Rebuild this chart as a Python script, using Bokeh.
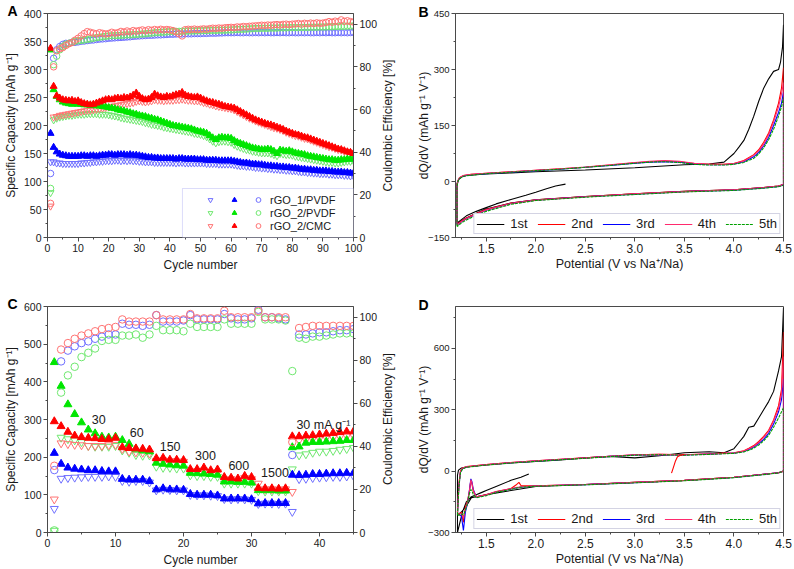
import math
from bokeh.plotting import figure
from bokeh.models import (Range1d, LinearAxis, Legend, LegendItem, Label, Title,
                          SingleIntervalTicker, BoxAnnotation, PrintfTickFormatter)
from bokeh.layouts import column, row
from bokeh.core.properties import value
from bokeh.embed import file_html
from bokeh.resources import INLINE

# ---------------- Panel A data (cycles 1..100) ----------------
a_cycles = list(range(1, 101))
a_c1 = [186,161,153,149,147,146,145,145,145,145,146,146,145,146,146,145,146,147,147,148,
        148,147,148,148,148,147,148,147,147,146,145,144,143,143,142,142,141,141,141,141,
        141,140,141,141,140,140,140,140,139,139,139,138,138,138,138,137,137,137,137,137,
        136,135,134,133,133,132,131,131,130,130,129,128,128,127,127,126,126,125,125,124,
        124,123,122,122,121,121,120,120,119,119,119,118,118,117,117,117,116,116,115,115]
a_d1 = [135,135,133,133,132,132,132,132,132,132,133,133,134,134,135,135,136,136,137,137,
        137,138,138,137,138,137,138,137,137,136,136,135,135,135,134,134,134,134,134,134,
        134,133,134,134,133,133,133,133,133,133,133,132,132,132,132,131,131,131,131,131,
        130,129,128,128,127,127,126,125,125,124,124,123,123,122,122,121,121,120,120,119,
        119,118,117,117,116,116,115,115,114,114,114,113,113,112,112,112,111,111,110,110]
a_e1 = [30,84,88,89.5,90.5,91,91,91.5,91.5,91.7,92,92.1,92.3,92.5,92.6,92.8,93,93.1,93.2,93.4,
        93.5,93.6,93.7,93.8,93.9,94,94.1,94.3,94.4,94.5,94.6,94.7,94.8,94.8,94.9,95,95,95.1,95.2,95.3,
        95.3,95.4,95.4,95.4,95.5,95.5,95.5,95.6,95.6,95.6,95.7,95.7,95.8,95.8,95.8,95.9,95.9,96,96,96,
        96,96.1,96,96,96.1,96,96,96.1,96,96.1,96,96.1,96,96,96.1,96,96.1,96,96,96.1,
        96,96,96.1,96,96.1,96,96,96.1,96,96.1,96,96.1,96,96,96.1,96,96.1,96,96.1,96.2]
a_c2 = [335,264,252,246,242,240,239,238,239,238,238,237,237,236,236,235,235,234,233,232,
        231,230,228,227,226,224,223,221,220,218,217,216,214,213,211,210,208,206,204,202,
        200,199,198,197,196,195,194,192,190,189,188,186,182,178,175,178,179,178,178,177,
        173,170,168,166,164,162,160,159,158,157,157,158,157,154,150,156,155,154,155,153,
        151,150,149,148,146,145,144,143,142,141,140,139,139,138,138,139,139,140,140,140]
a_d2 = [80,210,213,215,216,217,218,218,219,220,220,220,221,221,221,221,220,220,220,219,
        218,217,216,214,213,212,211,210,209,208,207,205,204,202,201,200,199,197,196,195,
        194,193,192,191,190,189,188,186,185,184,182,180,176,172,169,171,172,172,171,170,
        166,163,161,159,157,156,154,153,152,151,151,151,150,148,146,150,149,148,148,147,
        145,144,143,142,141,140,139,138,137,136,135,134,134,133,133,134,135,136,136,137]
a_e2 = [23,81,85,88,89.5,90.5,91,91.5,92,92.2,92.4,92.6,92.8,93.1,93.4,93.7,93.9,94.1,94.3,94.5,
        94.6,94.6,94.7,94.8,94.9,95,95,95.1,95.2,95.3,95.4,95.5,95.7,95.8,96,96.1,96.2,96.3,96.4,96.5,
        96.5,96.6,96.6,96.7,96.7,96.8,96.8,96.8,96.9,96.9,97,97,97.1,97.1,97.1,97.2,97.2,97.2,97.3,97.3,
        97.4,97.5,97.6,97.6,97.7,97.8,97.9,98,98,98.1,98.1,98.1,98.2,98.2,98.2,98.3,98.3,98.3,98.4,98.4,
        98.4,98.4,98.5,98.5,98.5,98.6,98.6,98.6,98.7,98.7,98.7,98.8,98.8,98.9,98.9,99,99,99.1,99.1,99.2]
a_c3 = [338,270,253,249,246,245,244,245,243,244,241,239,238,237,238,240,242,244,246,247,
        246,248,249,248,250,249,251,254,258,252,248,246,247,250,256,253,251,250,252,251,
        253,255,256,259,254,252,251,250,251,249,246,244,242,241,239,238,236,234,233,232,
        231,228,225,222,219,216,213,210,208,206,204,202,201,199,197,195,193,190,188,186,
        184,183,181,179,178,176,174,172,170,168,166,164,162,160,158,157,155,153,152,150]
a_d3 = [56,215,216,218,219,220,221,222,223,224,225,226,227,227,228,229,230,231,232,233,
        234,235,236,237,238,239,240,241,243,244,243,242,243,244,246,245,245,244,245,245,
        245,246,246,247,246,245,245,244,244,243,241,240,238,237,235,234,233,232,231,230,
        228,225,222,219,216,213,211,208,206,204,202,200,198,196,195,193,191,188,186,184,
        182,181,179,177,176,174,172,170,168,166,164,162,161,159,157,156,154,153,152,151]
a_e3 = [16,80,87.5,88.5,89,90,90.8,91.4,92.5,93.4,94.5,95.6,96.5,96.2,95.8,95.5,96,95.7,95.4,95.6,
        96.2,95.8,96,96.6,96.3,96.8,96.4,97,96.7,97,97.3,96.9,97.4,97.1,97.5,97.2,97.6,97.3,97.5,97.3,
        97,96.4,95.5,94.5,97.4,97.6,97.5,97.7,97.5,97.6,97.8,97.6,97.9,98.1,98,98.2,98.1,98.3,98.4,98.5,
        98.4,98.7,98.6,98.9,98.8,99,99.1,99.2,99.3,99.5,99.4,99.6,99.5,99.7,99.8,99.6,99.9,100,99.8,100,
        100.1,100.3,100,100.4,100.2,100.5,100.3,100.6,100.4,100.5,100.8,101.2,100.9,101.4,101.1,102,101.3,101.6,101.2,101]
a_labels = ["rGO_1/PVDF", "rGO_2/PVDF", "rGO_2/CMC"]

# ---------------- Panel C data (cycles 1..45) ----------------
c_cycles = list(range(1, 46))
c_c1 = [211,182,172,169,167,165,165,163,162,162,142,140,140,140,136,114,117,114,114,113,
        102,100,100,100,98,90,90,90,90,88,77,78,78,78,78,153,152,153,155,155,156,157,157,158,158]
c_d1 = [63,143,145,146,147,148,148,148,149,148,137,135,137,137,133,112,114,113,112,112,
        100,99,99,98,97,89,88,89,88,87,76,77,77,76,77,55,142,143,145,146,147,148,148,149,150]
c_e1 = [29,79.5,84.5,86.5,88,88.8,90,91,92,92,97,96.5,96.5,96,96.5,101,98,98,98,98.5,
        101,99,99,99,99,101.5,99.5,99,99,99.5,103.5,100,100,99.5,99,36,92,92,92.5,93,93,93.5,94,94,94.5]
c_c2 = [452,389,340,314,292,273,263,254,252,254,245,235,222,218,215,185,182,180,178,177,
        158,157,156,155,153,135,135,134,134,132,112,112,112,111,111,226,228,238,240,240,241,242,243,245,245]
c_d2 = [5,252,248,245,240,230,228,228,228,230,218,212,206,204,205,175,172,172,170,170,
        152,150,150,148,148,130,130,130,130,130,110,109,109,109,109,168,205,208,212,215,215,217,220,222,225]
c_e2 = [1,65,73,77,81.5,83.5,85.5,89,89.5,89.5,91.5,91.5,92,90.5,92,96,94,94,94,93.5,
        97,95.5,95.5,95.5,95.5,99,97,97,97,97,102.5,99,99,99,98.5,75,90.5,90,91,91,91.5,92,92.5,92.5,92.5]
c_c3 = [295,282,267,257,253,251,250,248,248,251,226,224,223,222,220,197,198,193,193,192,
        168,168,172,165,167,147,145,143,150,147,118,117,117,116,117,255,255,257,258,260,262,264,266,268,268]
c_d3 = [88,237,235,233,232,230,230,230,232,233,222,215,213,212,210,190,192,190,189,188,
        162,163,165,160,160,140,142,138,145,142,130,115,115,114,115,108,245,246,248,250,252,252,254,256,257]
c_e3 = [31,85,88,90,91.5,92.5,93.5,94.5,95,95.5,99,98,98,98,98,101,99,99,99,99,
        101.5,99.5,99.5,99.5,99.5,103,100,100,100,100,103,100,100,100,100,42,95,95.5,96,96,96,96,96,96,96]
c_rates = ["30", "60", "150", "300", "600", "1500", "30 mA g\u207b\u00b9"]

# ---------------- Panel B data: dQ/dV, potential in V ----------------
b1_v = [2.3,2.2,2.1,2.0,1.9,1.75,1.6,1.5,1.4,1.3,1.25,1.22,1.205,1.205,1.22,1.25,1.3,1.5,1.75,2.0,
        2.5,3.0,3.5,3.75,3.9,4.0,4.05,4.1,4.15,4.2,4.25,4.3,4.35,4.4,4.45,4.47,4.49,4.5,4.5,4.45,
        4.3,4.0,3.5,3.0,2.5,2.0,1.75,1.5,1.4,1.3,1.25,1.22]
b1_q = [-7,-12,-20,-29,-37,-48,-60,-70,-80,-92,-102,-108,-112,-5,5,12,16,20,23,26,
        31,37,45,47,52,75,92,110,140,175,215,250,275,295,300,320,360,420,-8,-12,
        -16,-22,-26,-33,-40,-49,-58,-74,-85,-98,-106,-112]
b_v = [1.205,1.205,1.215,1.23,1.27,1.35,1.5,1.75,2.0,2.25,2.5,2.75,3.0,3.15,3.3,3.45,3.6,3.75,3.9,4.0,
       4.1,4.2,4.25,4.3,4.35,4.4,4.45,4.48,4.5,4.5,4.45,4.3,4.0,3.5,3.0,2.5,2.0,1.75,1.5,1.4,
       1.3,1.25,1.22,1.205]
b2_q = [-112,-10,2,10,16,19,22,26,30,34,38,44,50,53,55,53,48,46,46,48,
        56,72,85,105,130,165,210,250,305,-8,-12,-16,-22,-26,-33,-40,-49,-58,-75,-86,
        -98,-106,-112,-115]
b3_q = [-115,-12,1,9,15,18,21,25,29,33,38,43,49,52,53,52,47,45,45,47,
        53,66,78,95,118,150,185,210,240,-9,-13,-17,-23,-27,-34,-41,-50,-59,-77,-88,
        -100,-108,-114,-117]
b4_q = [-113,-11,2,10,16,19,22,26,30,34,39,45,51,54,56,54,49,46,46,48,
        55,70,82,100,125,160,200,235,265,-8,-12,-16,-22,-27,-33,-41,-50,-59,-76,-87,
        -99,-107,-113,-116]
b5_q = [-120,-14,0,8,14,17,21,25,29,33,38,43,49,52,53,51,46,44,44,46,
        51,62,74,90,112,140,175,200,225,-10,-14,-18,-24,-28,-35,-42,-51,-61,-80,-91,
        -103,-111,-118,-121]

# ---------------- Panel D data ----------------
d1_v = [1.93,1.85,1.75,1.6,1.5,1.45,1.4,1.35,1.3,1.26,1.23,1.215,1.21,1.21,1.22,1.25,1.3,1.5,1.75,2.0,
        2.25,2.5,2.75,3.0,3.25,3.5,3.75,3.9,4.0,4.05,4.1,4.15,4.2,4.25,4.3,4.35,4.4,4.45,4.48,4.5,
        4.5,4.45,4.3,4.0,3.5,3.0,2.5,2.0,1.75,1.5,1.45,1.4,1.35,1.3,1.25,1.22]
d1_q = [-14,-30,-45,-75,-95,-105,-115,-125,-150,-200,-260,-290,-300,-20,5,15,20,30,40,47,
        55,65,72,65,75,90,95,90,110,140,170,215,220,260,300,340,390,490,560,800,
        0,-8,-15,-30,-45,-55,-65,-75,-95,-115,-120,-125,-130,-170,-200,-210]
d_v = [1.21,1.215,1.225,1.24,1.26,1.3,1.5,1.75,2.0,2.25,2.5,2.75,3.0,3.25,3.5,3.75,3.9,4.0,4.1,4.15,
       4.2,4.25,4.3,4.35,4.4,4.45,4.48,4.5,4.5,4.45,4.3,4.0,3.5,3.0,2.5,2.0,1.85,1.83,1.8,1.75,
       1.6,1.5,1.45,1.4,1.37,1.355,1.345,1.33,1.31,1.29,1.27,1.25,1.23,1.21]
d2_q = [-200,-150,-60,0,15,22,32,42,50,58,65,73,80,82,80,85,88,90,100,112,
        125,145,170,200,250,320,400,680,0,-8,-15,-30,-45,-55,-65,-72,-70,-55,-68,-85,
        -100,-115,-120,-125,-100,-60,-45,-100,-150,-175,-250,-200,-210,-210]
d3_q = [-210,-160,-70,-5,12,20,31,41,49,57,64,72,79,81,79,83,86,88,96,106,
        118,135,155,185,230,290,350,450,0,-8,-16,-31,-46,-56,-66,-73,-78,-80,-82,-87,
        -102,-117,-122,-127,-90,-50,-38,-95,-160,-200,-290,-220,-212,-212]
d4_q = [-205,-155,-65,-2,14,21,32,42,50,58,65,73,80,82,80,84,87,89,98,110,
        122,140,165,195,245,305,380,560,0,-8,-15,-30,-45,-55,-65,-72,-76,-78,-80,-86,
        -101,-116,-121,-126,-95,-55,-42,-98,-155,-185,-230,-205,-210,-210]
d5_q = [-215,-165,-75,-8,10,19,30,40,48,56,63,71,78,80,78,82,85,87,94,102,
        112,128,148,175,215,260,290,310,0,-9,-17,-32,-47,-57,-67,-74,-79,-81,-83,-89,
        -104,-120,-125,-130,-115,-95,-90,-110,-160,-190,-215,-210,-215,-215]
d_spike_v = [3.37,3.39,3.41,3.43,3.46,3.5]
d_spike_q = [-10,20,50,70,78,82]
cycle_labels = ["1st", "2nd", "3rd", "4th", "5th"]

# ---------------- styling ----------------
FONT = "Liberation Sans"
FRAME = "#4a4a4a"
TXT = "#1a1a1a"
FILLED = ["#0000ff", "#00e600", "#ff0000"]
OPEN = ["#6f6fff", "#6fe86f", "#ff7373"]
LINES = ["#000000", "#ff0000", "#0000ff", "#ff2a6d", "#00a000"]


def style_axis(ax, tick_size="10.5px", label_size="12px", label_standoff=3):
    ax.axis_line_color = FRAME
    ax.major_tick_line_color = FRAME
    ax.minor_tick_line_color = FRAME
    ax.major_tick_in = 0
    ax.major_tick_out = 4
    ax.minor_tick_in = 0
    ax.minor_tick_out = 2
    ax.major_label_text_font = FONT
    ax.major_label_text_font_size = tick_size
    ax.major_label_text_color = TXT
    ax.major_label_standoff = 2
    ax.axis_label_text_font = FONT
    ax.axis_label_text_font_size = label_size
    ax.axis_label_text_font_style = "normal"
    ax.axis_label_text_color = TXT
    ax.axis_label_standoff = label_standoff


def make_fig(w, h, xr, yr, bl, br, bt, bb):
    p = figure(width=w, height=h, x_range=Range1d(*xr), y_range=Range1d(*yr),
               output_backend="svg", toolbar_location=None,
               min_border_left=bl, min_border_right=br,
               min_border_top=bt, min_border_bottom=bb)
    p.grid.visible = False
    p.outline_line_color = FRAME
    p.outline_line_width = 1
    p.background_fill_color = "white"
    p.border_fill_color = "white"
    return p


def panel_letter(p, text, offset, standoff):
    p.add_layout(Title(text=text, align="left", vertical_align="bottom",
                       offset=offset, standoff=standoff,
                       text_font=FONT, text_font_size="14px", text_font_style="bold",
                       text_color="black"), "above")


def capacity_panel(w, h, xr, yr, borders, x_int, xs, charge, discharge, ce, msize):
    p = make_fig(w, h, xr, yr, *borders)
    p.extra_y_ranges = {"ce": Range1d(0, 105)}
    p.xaxis.ticker = SingleIntervalTicker(interval=x_int, num_minor_ticks=2)
    p.yaxis.ticker = SingleIntervalTicker(interval=50 if yr[1] <= 400 else 100, num_minor_ticks=2)
    p.xaxis.axis_label = "Cycle number"
    p.yaxis.axis_label = "Specific Capacity [mAh g\u207b\u00b9]"
    rax = LinearAxis(y_range_name="ce",
                     ticker=SingleIntervalTicker(interval=20, num_minor_ticks=2))
    p.add_layout(rax, "right")
    for ax in [p.xaxis[0], p.yaxis[0], rax]:
        style_axis(ax)
    # right-hand axis title, reading bottom-to-top like the reference
    frame_h = h - borders[2] - borders[3]
    p.add_layout(Label(x=7, y=frame_h / 2, x_units="screen", y_units="screen",
                       text="Coulombic Efficiency [%]", angle=math.pi / 2,
                       text_align="center", text_baseline="middle",
                       text_font=FONT, text_font_size="12px", text_color=TXT), "right")
    rd, rc, re = [], [], []
    for i in range(3):
        rd.append(p.scatter(xs, discharge[i], marker="inverted_triangle", size=msize,
                            fill_color=None, line_color=OPEN[i], line_width=1))
    for i in range(3):
        rc.append(p.scatter(xs, charge[i], marker="triangle", size=msize,
                            fill_color=FILLED[i], line_color=FILLED[i], line_width=1))
    for i in range(3):
        re.append(p.scatter(xs, ce[i], marker="circle", size=msize - 0.5, y_range_name="ce",
                            fill_color=None, line_color=OPEN[i], line_width=1))
    return p, rd, rc, re


# ---------------- Panel A ----------------
pA, rdA, rcA, reA = capacity_panel(397, 280, (0, 100), (0, 400), (47, 44, 13, 43), 10,
                                   a_cycles, [a_c1, a_c2, a_c3], [a_d1, a_d2, a_d3],
                                   [a_e1, a_e2, a_e3], 7)
pA.add_layout(BoxAnnotation(left=44.1, right=100, bottom=0, top=87.5,
                            fill_color="white", fill_alpha=1,
                            line_color="#8c8cf0", line_width=1, level="overlay"))
items = ([LegendItem(label=value(" "), renderers=[r]) for r in rdA] +
         [LegendItem(label=value(" "), renderers=[r]) for r in rcA] +
         [LegendItem(label=value(lab), renderers=[r]) for lab, r in zip(a_labels, reA)])
legA = Legend(items=items, orientation="vertical", nrows=3, ncols=3, location=(152, 0),
              glyph_width=12, glyph_height=13, label_height=13, label_width=6,
              label_standoff=6, spacing=0, padding=5, margin=0,
              label_text_font=FONT, label_text_font_size="11px", label_text_color=TXT,
              border_line_alpha=0, background_fill_alpha=0)
pA.add_layout(legA)
panel_letter(pA, "A", -40, -11)

# ---------------- Panel C ----------------
pC, rdC, rcC, reC = capacity_panel(397, 289, (0, 45), (0, 600), (47, 44, 25, 37), 10,
                                   c_cycles, [c_c1, c_c2, c_c3], [c_d1, c_d2, c_d3],
                                   [c_e1, c_e2, c_e3], 8)
rate_x = [6.5, 12.1, 16.5, 21.7, 26.6, 31.4, 36.6]
rate_y = [299, 265, 229, 204, 179, 160, 285]
for t, x, y in zip(c_rates, rate_x, rate_y):
    pC.add_layout(Label(x=x, y=y, text=t, text_font=FONT, text_font_size="12.5px",
                        text_color=TXT, text_baseline="middle", text_align="left"))
panel_letter(pC, "C", -40, -10)


# ---------------- Panels B / D ----------------
def dqdv_panel(h, yr, y_int, borders, curves):
    p = make_fig(397, h, (1.19, 4.5), yr, *borders)
    p.xaxis.ticker = SingleIntervalTicker(interval=0.5, num_minor_ticks=2)
    p.xaxis.formatter = PrintfTickFormatter(format="%.1f")
    p.yaxis.ticker = SingleIntervalTicker(interval=y_int, num_minor_ticks=2)
    p.xaxis.axis_label = "Potential (V vs Na\u207a/Na)"
    p.yaxis.axis_label = "dQ/dV (mAh g\u207b\u00b9 V\u207b\u00b9)"
    style_axis(p.xaxis[0], tick_size="12px", label_size="12.5px", label_standoff=1)
    style_axis(p.yaxis[0], tick_size="9.5px", label_size="12px", label_standoff=-6)
    rs = []
    for i, (v, q) in enumerate(curves):
        rs.append(p.line(v, q, line_color=LINES[i], line_width=1.1,
                         line_dash="3 1" if i == 4 else "solid"))
    leg = Legend(items=[LegendItem(label=value(lab), renderers=[r]) for lab, r in zip(cycle_labels, rs)],
                 orientation="horizontal", location="bottom_right",
                 glyph_width=28, glyph_height=12, label_height=12, label_width=18,
                 label_standoff=6, spacing=9, padding=2, margin=3,
                 label_text_font=FONT, label_text_font_size="13px", label_text_color=TXT,
                 border_line_color="#a8a8c8", border_line_width=1, background_fill_alpha=1)
    p.add_layout(leg)
    return p


pB = dqdv_panel(280, (-150, 450), 150, (58, 11, 9, 43),
                [(b1_v, b1_q), (b_v, b2_q), (b_v, b3_q), (b_v, b4_q), (b_v, b5_q)])
panel_letter(pB, "B", -37, -12)

pD = dqdv_panel(289, (-300, 805), 300, (58, 11, 26, 34),
                [(d1_v, d1_q), (d_v, d2_q), (d_v, d3_q), (d_v, d4_q), (d_v, d5_q)])
pD.line(d_spike_v, d_spike_q, line_color=LINES[1], line_width=1.1)
panel_letter(pD, "D", -37, -12)

layout = column(row(pA, pB), row(pC, pD))
open("out.html", "w").write(file_html(layout, INLINE))
